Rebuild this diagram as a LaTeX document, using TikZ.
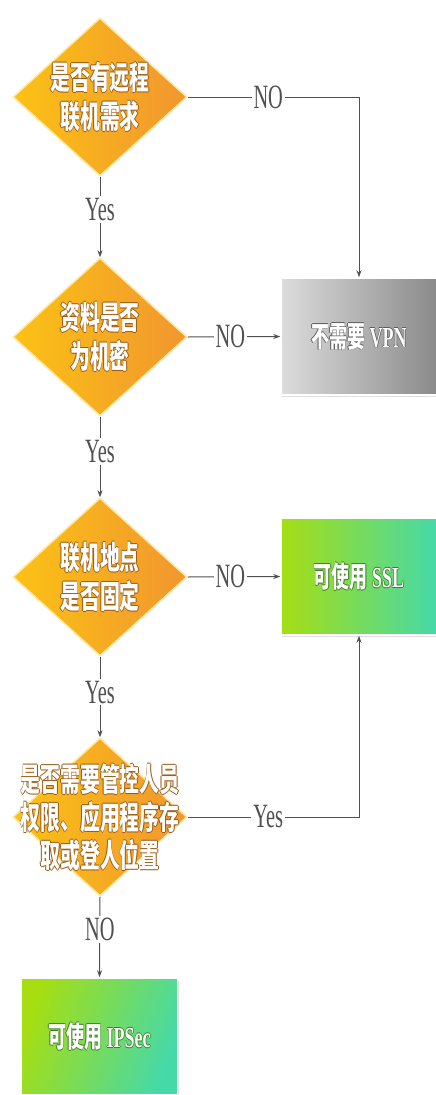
\documentclass[tikz,border=0pt]{standalone}
\usepackage{fontspec}
\setmainfont{Liberation Serif}
\newfontfamily\cjk{Noto Sans CJK SC}
\usepackage{graphicx}
\usetikzlibrary{shapes.geometric,arrows.meta,shadows}
\definecolor{dleft}{HTML}{FBC214}
\definecolor{dright}{HTML}{F1962F}
\definecolor{gleft}{HTML}{DCDCDC}
\definecolor{gright}{HTML}{8A8A8A}
\definecolor{nleft}{HTML}{A6DE12}
\definecolor{nright}{HTML}{46D9A8}
\definecolor{linec}{HTML}{505050}
\definecolor{dout}{HTML}{9A5A14}
\definecolor{gout}{HTML}{5E5E5E}
\definecolor{nout}{HTML}{3F7F22}
\newcommand\outl[2]{\leavevmode\rlap{\kern0.9pt\textcolor{#1}{#2}}\rlap{\kern-0.9pt\textcolor{#1}{#2}}\rlap{\raisebox{0.9pt}{\textcolor{#1}{#2}}}\rlap{\raisebox{-0.9pt}{\textcolor{#1}{#2}}}\textcolor{white}{#2}}
\newcommand\dtx[1]{\scalebox{0.62}[1]{\outl{dout}{#1}}}
\newcommand\gtx[1]{\scalebox{0.62}[1]{\outl{gout}{#1}}}
\newcommand\ntx[1]{\scalebox{0.62}[1]{\outl{nout}{#1}}}
\newcommand\lb[1]{\scalebox{0.6}[1]{#1}}
\tikzset{
  dia/.style={diamond, minimum width=174pt, minimum height=158pt, inner sep=0pt,
    left color=dleft, right color=dright, draw=dleft!40!white, line width=1.5pt},
  dtext/.style={align=center, font=\fontsize{32}{39}\selectfont\cjk\bfseries, inner sep=0pt},
  graybox/.style={rectangle, minimum width=156pt, minimum height=117pt, inner sep=0pt,
    left color=gleft, right color=gright, draw=white, line width=1.5pt,
    drop shadow={opacity=0.25, shadow xshift=1pt, shadow yshift=-2pt}},
  greenbox/.style={rectangle, minimum width=156pt, minimum height=117pt, inner sep=0pt,
    left color=nleft, right color=nright, draw=white, line width=1.5pt,
    drop shadow={opacity=0.25, shadow xshift=1pt, shadow yshift=-2pt}},
  btext/.style={font=\fontsize{29}{34}\selectfont\bfseries},
  conn/.style={draw=linec, line width=1pt, -{Stealth[length=7pt,width=5pt]}},
  lab/.style={fill=white, inner sep=2pt, text=linec, font=\fontsize{34}{34}\selectfont}
}
\begin{document}
\begin{tikzpicture}[x=1pt,y=-1pt]
\useasboundingbox (0,0) rectangle (436,1095);
% decisions
\node[dia] (d1) at (100,97) {};
\node[dtext] (d1t) at (d1.center) {\dtx{是否有远程}\\\dtx{联机需求}};
\node[dia] (d2) at (100,337) {};
\node[dtext] (d2t) at (d2.center) {\dtx{资料是否}\\\dtx{为机密}};
\node[dia] (d3) at (100,577) {};
\node[dtext] (d3t) at (d3.center) {\dtx{联机地点}\\\dtx{是否固定}};
\node[dia] (d4) at (100,817) {};
\node[dtext, font=\fontsize{32}{38}\selectfont\cjk\bfseries] (d4t) at (d4.center) {\dtx{是否需要管控人员}\\\dtx{权限、应用程序存}\\\dtx{取或登人位置}};
% results
\node[graybox] (gray) at (359,336.5) {};
\node[btext] (grayt) at (gray.center) {\gtx{{\cjk 不需要} VPN}};
\node[greenbox] (ssl) at (359,576.5) {};
\node[btext] (sslt) at (ssl.center) {\ntx{{\cjk 可使用} SSL}};
\node[greenbox, shading angle=70] (ipsec) at (99.5,1036.5) {};
\node[btext] (ipsect) at (ipsec.center) {\ntx{{\cjk 可使用} IPSec}};
% connectors
\draw[conn] (d1.east) -- node[lab,pos=0.47]{\lb{NO}} (d1.east -| gray.north) -- (gray.north);
\draw[conn] (d1.south) -- node[lab,pos=0.41]{\lb{Yes}} (d2.north);
\draw[conn] (d2.east) -- node[lab,pos=0.46]{\lb{NO}} (gray.west);
\draw[conn] (d2.south) -- node[lab,pos=0.43]{\lb{Yes}} (d3.north);
\draw[conn] (d3.east) -- node[lab,pos=0.46]{\lb{NO}} (ssl.west);
\draw[conn] (d3.south) -- node[lab,pos=0.44]{\lb{Yes}} (d4.north);
\draw[conn] (d4.east) -- node[lab,pos=0.47]{\lb{Yes}} (d4.east -| ssl.south) -- (ssl.south);
\draw[conn] (d4.south) -- node[lab,pos=0.41]{\lb{NO}} (ipsec.north);
\end{tikzpicture}
\end{document}
